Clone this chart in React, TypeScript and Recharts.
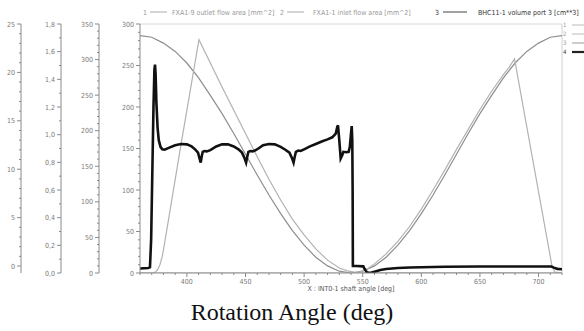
import React from 'react';
import { LineChart, Line, XAxis, YAxis, ReferenceLine } from 'recharts';

// ---- Data (values read in main-axis units, 0..300) ----
const outletAngle = [360, 371, 373, 375, 377, 379, 381, 395, 410.3, 420, 430, 440, 450, 460, 470, 480, 490, 500, 510, 520, 530, 537, 545, 720];
const outletArea = [0, 0, 1, 4, 10, 20, 36, 155, 281, 253, 224, 196, 168, 140, 113, 88, 65, 46, 29, 15.5, 6, 2.5, 0.5, 0];

const inletAngle = [360, 542, 546, 550, 555, 560, 570, 580, 590, 600, 610, 620, 630, 640, 650, 660, 670, 675, 679.5, 711.5, 714, 720];
const inletArea = [0, 0, 0.5, 2.5, 6, 11, 23, 38, 56, 77, 100, 124, 149, 173, 197, 219, 239, 248, 258, 8, 1, 0];

const volumeAngle = [360, 370, 380, 390, 400, 410, 420, 430, 440, 450, 460, 470, 480, 490, 500, 510, 520, 530, 540, 550, 560, 570, 580, 590, 600, 610, 620, 630, 640, 650, 660, 670, 680, 690, 700, 710, 720];
const volumePort3 = [286, 284, 277, 267, 253, 235, 214, 192, 168, 143, 118, 94, 71.5, 51, 33.5, 19, 8.6, 2.2, 0, 2.2, 8.6, 19, 33.5, 51, 71.5, 94, 118, 143, 168, 192, 214, 235, 253, 267, 277, 284, 286];

const pressureAngle = [360, 367, 368.5, 369.5, 370.5, 371.5, 372.3, 372.8, 373.3, 374, 375, 376, 377.5, 379, 381, 385, 390, 395, 400, 404, 407, 409.5, 410.8, 411.8, 412.6, 413.5, 415, 417, 420, 425, 430, 435, 440, 444, 447, 449, 450.5, 451.5, 452.5, 454, 456, 458, 461, 465, 470, 475, 480, 484, 487.5, 489.5, 491, 492, 493, 495, 497, 500, 505, 510, 515, 520, 524, 527, 528.3, 528.9, 530, 531.2, 532.5, 533.5, 536, 538, 539, 540, 540.6, 541.1, 541.4, 541.6, 545, 550.5, 551.5, 553.5, 556, 560, 565, 570, 580, 590, 600, 610, 620, 650, 700, 711, 713, 716, 720];
const pressure = [5.5, 6, 7, 40, 120, 200, 245, 251, 240, 205, 175, 160, 152, 149, 148.5, 151, 154, 155.5, 155, 152.5, 149, 145, 138, 133, 140, 146, 147, 146.5, 148, 152.5, 155, 155, 152.5, 149, 145, 139, 133, 140, 146, 147, 146.5, 147.5, 150, 154, 155.5, 155, 152, 148.5, 145, 139, 133, 140, 146, 147.5, 147, 149, 152.5, 155.5, 158.5, 161, 163.5, 168, 176, 178, 160, 138, 142, 146, 145.5, 146, 152, 168, 177, 160, 100, 8.5, 8.5, 8, 5, 1, 0, 1.5, 3.5, 4.8, 6, 6.6, 7, 7.3, 7.6, 7.8, 7.8, 7.8, 6.5, 5, 4.5];

// ---- Tick labels ----
const xMajorTicks = [400, 450, 500, 550, 600, 650, 700];
const mainMajorTicks = [0, 50, 100, 150, 200, 250, 300];
const axis350MajorTicks = [0, 50, 100, 150, 200, 250, 300, 350];
const axis18MajorTicks = [0, 0.2, 0.4, 0.6, 0.8, 1.0, 1.2, 1.4, 1.6, 1.8];
const axis25MajorTicks = [0, 5, 10, 15, 20, 25];

const legendItems = ['FXA1-9 outlet flow area [mm^2]', 'FXA1-1 inlet flow area [mm^2]', 'BHC11-1 volume port 3 [cm**3]'];
const xAxisTitle = 'X : INT0-1 shaft angle [deg]';
const chartTitle = 'Rotation Angle (deg)';

const toRows = (xs: number[], ys: number[]) => xs.map((a, i) => ({ angle: a, v: ys[i] }));
const outletData = toRows(outletAngle, outletArea);
const inletData = toRows(inletAngle, inletArea);
const volumeData = toRows(volumeAngle, volumePort3);
const pressureData = toRows(pressureAngle, pressure);

const range = (from: number, to: number, step: number) => {
  const out: number[] = [];
  const n = Math.round((to - from) / step);
  for (let i = 0; i <= n; i++) out.push(Math.round((from + i * step) * 1000) / 1000);
  return out;
};

const FONT = '"DejaVu Sans Condensed", "Liberation Sans Narrow", "DejaVu Sans", sans-serif';
const AXIS = '#8a8a8a';
const LABEL = '#7a7a7a';

const isMajor = (majors: number[], v: number) => majors.some((m) => Math.abs(m - v) < 1e-6);

const makeYTick = (majors: number[], fmt: (v: number) => string) => (props: any) => {
  const { x, y, payload } = props;
  const v = payload.value;
  const major = isMajor(majors, v);
  return (
    <g>
      <line x1={x} x2={x - (major ? 4 : 2)} y1={y} y2={y} stroke={AXIS} strokeWidth={1} />
      {major && (
        <text x={x - 6} y={y} dy={2.5} textAnchor="end" fontSize={7} fill={LABEL} fontFamily={FONT}>
          {fmt(v)}
        </text>
      )}
    </g>
  );
};

const XTick = (props: any) => {
  const { x, y, payload } = props;
  const v = payload.value;
  const major = isMajor(xMajorTicks, v);
  return (
    <g>
      <line x1={x} x2={x} y1={y} y2={y + (major ? 4 : 2)} stroke={AXIS} strokeWidth={1} />
      {major && (
        <text x={x} y={y + 11} textAnchor="middle" fontSize={7} fill={LABEL} fontFamily={FONT}>
          {v}
        </text>
      )}
    </g>
  );
};

const fmtInt = (v: number) => String(v);
const fmtComma = (v: number) => v.toFixed(1).replace('.', ',');

const yCommon = {
  orientation: 'left' as const,
  interval: 0 as const,
  tickSize: 0,
  tickMargin: 0,
  tickLine: false,
  axisLine: { stroke: AXIS },
  allowDataOverflow: true,
};

export default function App() {
  return (
    <div style={{ position: 'absolute', left: 0, top: 0, width: 584, height: 331, background: '#fff' }}>
      <LineChart width={584} height={331} margin={{ top: 24, right: 22, bottom: 28, left: 0 }}>
        <XAxis
          dataKey="angle"
          type="number"
          domain={[360, 720]}
          ticks={range(360, 720, 10)}
          interval={0}
          tickSize={0}
          tickMargin={0}
          tickLine={false}
          axisLine={{ stroke: AXIS }}
          tick={XTick}
          height={30}
          allowDataOverflow
        />
        {/* axes are laid out from the plot outward in id order */}
        <YAxis yAxisId="y0" {...yCommon} width={41} domain={[0, 300]} ticks={range(0, 300, 10)} tick={makeYTick(mainMajorTicks, fmtInt)} />
        <YAxis yAxisId="y1" {...yCommon} width={38} domain={[0, 350]} ticks={range(0, 350, 10)} tick={makeYTick(axis350MajorTicks, fmtInt)} />
        <YAxis yAxisId="y2" {...yCommon} width={40} domain={[0, 1.8]} ticks={range(0, 1.8, 0.1)} tick={makeYTick(axis18MajorTicks, fmtComma)} />
        <YAxis yAxisId="y3" {...yCommon} width={21} domain={[-0.72, 25]} ticks={range(0, 25, 1)} tick={makeYTick(axis25MajorTicks, fmtInt)} />
        <ReferenceLine yAxisId="y0" y={300} stroke="#d8d8d8" strokeWidth={1} />
        <ReferenceLine yAxisId="y0" x={720} stroke="#d0d0d0" strokeWidth={1} />
        <Line yAxisId="y0" data={volumeData} dataKey="v" type="linear" stroke="#8e8e8e" strokeWidth={1.2} dot={false} isAnimationActive={false} />
        <Line yAxisId="y0" data={outletData} dataKey="v" type="linear" stroke="#b2b2b2" strokeWidth={1.2} dot={false} isAnimationActive={false} />
        <Line yAxisId="y0" data={inletData} dataKey="v" type="linear" stroke="#b2b2b2" strokeWidth={1.2} dot={false} isAnimationActive={false} />
        <Line yAxisId="y0" data={pressureData} dataKey="v" type="linear" stroke="#111" strokeWidth={2.6} dot={false} isAnimationActive={false} />
      </LineChart>

      {/* top legend */}
      <svg width={584} height={24} style={{ position: 'absolute', left: 0, top: 0 }}>
        <g fontFamily={FONT} fontSize={7}>
          <text x={143} y={14.5} fill="#999">1</text>
          <line x1={150} x2={167} y1={12} y2={12} stroke="#aaa" />
          <text x={172} y={14.5} fill="#999">{legendItems[0]}</text>
          <text x={280} y={14.5} fill="#999">2</text>
          <line x1={287} x2={304} y1={12} y2={12} stroke="#aaa" />
          <text x={313} y={14.5} fill="#999">{legendItems[1]}</text>
          <text x={435} y={14.5} fill="#333">3</text>
          <line x1={443} x2={467} y1={12} y2={12} stroke="#444" />
          <text x={478} y={14.5} fill="#333">{legendItems[2]}</text>
        </g>
      </svg>

      {/* right legend */}
      <svg width={24} height={60} style={{ position: 'absolute', left: 562, top: 20 }}>
        <g fontFamily={FONT} fontSize={6} fill="#999">
          <text x={1} y={7}>1</text>
          <line x1={10} x2={22} y1={5} y2={5} stroke="#bbb" />
          <text x={1} y={16}>2</text>
          <line x1={10} x2={22} y1={14} y2={14} stroke="#bbb" />
          <text x={1} y={25}>3</text>
          <line x1={10} x2={22} y1={23} y2={23} stroke="#999" />
          <text x={1} y={34} fill="#333">4</text>
          <line x1={10} x2={22} y1={32} y2={32} stroke="#222" strokeWidth={2.2} />
        </g>
      </svg>

      {/* x axis title */}
      <svg width={584} height={20} style={{ position: 'absolute', left: 0, top: 280 }}>
        <text x={351} y={10.5} textAnchor="middle" fontFamily={FONT} fontSize={7} fill="#555">{xAxisTitle}</text>
      </svg>

      <div
        style={{
          position: 'absolute',
          left: 0,
          top: 298,
          width: 584,
          textAlign: 'center',
          fontFamily: '"Liberation Serif", "Times New Roman", serif',
          fontSize: 24,
          color: '#111',
          lineHeight: '28px',
        }}
      >
        {chartTitle}
      </div>
    </div>
  );
}
